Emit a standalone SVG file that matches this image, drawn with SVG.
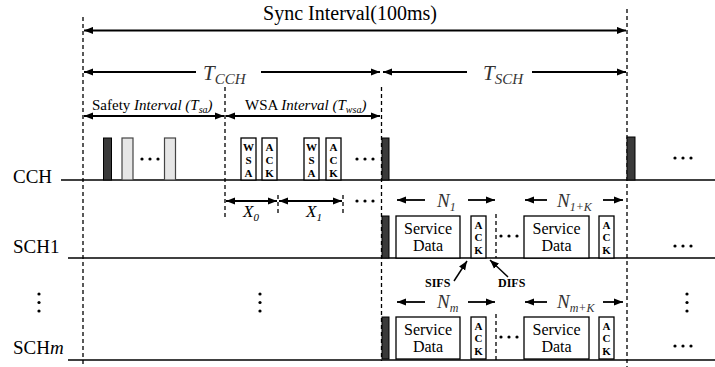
<svg xmlns="http://www.w3.org/2000/svg" width="715" height="367" viewBox="0 0 715 367">
<style>
text{font-family:"Liberation Serif","Times New Roman",serif;fill:#000}
.it{font-style:italic}
.gr{fill:#333}
.lbl{font-size:19px}
.dash{stroke:#000;stroke-width:1.3;stroke-dasharray:4,3;fill:none}
.base{stroke:#000;stroke-width:1.6;fill:none}
.arr{stroke:#000;stroke-width:1.8;fill:none;marker-end:url(#ah)}
.arr2{stroke:#000;stroke-width:1.8;fill:none;marker-end:url(#ah);marker-start:url(#ah)}
.thin{stroke:#000;stroke-width:1.5;fill:none;marker-end:url(#ah)}
.box{fill:#fff;stroke:#000;stroke-width:1.3}
.dark{fill:#3a3a3a;stroke:#000;stroke-width:1}
.light{fill:#e6e6e6;stroke:#444;stroke-width:1.2}
.v{font-size:11px;font-weight:bold;text-anchor:middle}
.sd{font-size:16px;text-anchor:middle}
.small{font-size:12px;font-weight:bold}
</style>
<defs>
<marker id="ah" markerUnits="userSpaceOnUse" markerWidth="9" markerHeight="8" viewBox="0 0 10 8" refX="10" refY="4" orient="auto-start-reverse">
<path d="M0,0 L10,4 L0,8 z" fill="#000"/>
</marker>
<g id="dots3h"><circle cx="0" cy="0" r="1.6"/><circle cx="8" cy="0" r="1.6"/><circle cx="16" cy="0" r="1.6"/></g>
<g id="dots3v"><circle cx="0" cy="0" r="1.6"/><circle cx="0" cy="8.5" r="1.6"/><circle cx="0" cy="17" r="1.6"/></g>
</defs>

<!-- connectors / timing lines -->
<g id="connectors">
<line class="dash" x1="83" y1="17" x2="83" y2="367"/>
<line class="dash" x1="627" y1="9" x2="627" y2="367"/>
<line class="dash" x1="381.5" y1="87" x2="381.5" y2="361"/>
<line class="dash" x1="225" y1="87" x2="225" y2="217"/>
<line class="dash" x1="278" y1="195" x2="278" y2="215"/>
<line class="dash" x1="343" y1="195" x2="343" y2="215"/>
<line class="dash" x1="496" y1="214" x2="496" y2="258"/>
<line class="dash" x1="496" y1="314" x2="496" y2="360"/>

<line class="arr2" x1="84" y1="30.5" x2="626" y2="30.5"/>
<line class="arr" x1="196" y1="72" x2="84" y2="72"/>
<line class="arr" x1="261" y1="72" x2="380" y2="72"/>
<line class="arr" x1="467" y1="72" x2="383" y2="72"/>
<line class="arr" x1="532" y1="72" x2="626" y2="72"/>
<line class="arr2" x1="84" y1="116" x2="224" y2="116"/>
<line class="arr2" x1="226" y1="116" x2="380" y2="116"/>
<line class="arr2" x1="226" y1="201" x2="277" y2="201"/>
<line class="arr2" x1="279" y1="201" x2="342" y2="201"/>

<line class="arr" x1="425" y1="200" x2="397" y2="200"/>
<line class="arr" x1="468" y1="200" x2="495" y2="200"/>
<line class="arr" x1="547" y1="200" x2="525" y2="200"/>
<line class="arr" x1="603" y1="200" x2="623" y2="200"/>
<line class="arr" x1="425" y1="302" x2="397" y2="302"/>
<line class="arr" x1="468" y1="302" x2="495" y2="302"/>
<line class="arr" x1="547" y1="302" x2="525" y2="302"/>
<line class="arr" x1="603" y1="302" x2="623" y2="302"/>

<line class="thin" x1="454" y1="281" x2="467" y2="261"/>
<line class="thin" x1="508" y1="277" x2="490" y2="260"/>

<line class="base" x1="61" y1="180" x2="715" y2="180"/>
<line class="base" x1="68" y1="258" x2="715" y2="258"/>
<line class="base" x1="68" y1="360" x2="715" y2="360"/>
</g>

<!-- titles -->
<g id="titles">
<text x="350" y="20" font-size="20" text-anchor="middle">Sync Interval(100ms)</text>
<text x="203" y="80" font-size="21" class="it gr">T<tspan font-size="15" dy="4">CCH</tspan></text>
<text x="483" y="80" font-size="21" class="it gr">T<tspan font-size="15" dy="4">SCH</tspan></text>
<text x="92" y="110" font-size="15">Safety <tspan class="it">Interval (T<tspan font-size="10" dy="3">sa</tspan><tspan dy="-3">)</tspan></tspan></text>
<text x="245" y="110" font-size="15">WSA <tspan class="it">Interval (T<tspan font-size="10" dy="3">wsa</tspan><tspan dy="-3">)</tspan></tspan></text>
<text x="243" y="217" font-size="17" class="it">X<tspan font-size="11" dy="4">0</tspan></text>
<text x="306" y="217" font-size="17" class="it">X<tspan font-size="11" dy="4">1</tspan></text>
<text x="437" y="207" font-size="19" class="it gr">N<tspan font-size="12" dy="4">1</tspan></text>
<text x="557" y="207" font-size="19" class="it gr">N<tspan font-size="12" dy="4">1+K</tspan></text>
<text x="437" y="308" font-size="19" class="it gr">N<tspan font-size="12" dy="4">m</tspan></text>
<text x="557" y="308" font-size="19" class="it gr">N<tspan font-size="12" dy="4">m+K</tspan></text>
<text x="425" y="287" class="small">SIFS</text>
<text x="498" y="287" class="small">DIFS</text>
</g>

<!-- channel labels -->
<g id="label-cch"><text x="13" y="183" class="lbl">CCH</text></g>
<g id="label-sch1"><text x="13" y="253" class="lbl">SCH1</text></g>
<g id="label-schm"><text x="13" y="354" class="lbl">SCH<tspan class="it">m</tspan></text></g>

<!-- CCH safety slots -->
<g id="cch-safety">
<rect class="dark" x="103.5" y="138" width="8" height="42"/>
<rect class="light" x="122" y="138" width="11" height="42"/>
<use href="#dots3h" x="142" y="159"/>
<rect class="light" x="164.5" y="138" width="11" height="42"/>
</g>

<!-- CCH WSA slots -->
<g id="cch-wsa">
<rect class="box" x="241" y="138" width="15" height="42"/>
<text class="v" x="248.5" y="151">W</text><text class="v" x="248.5" y="164">S</text><text class="v" x="248.5" y="177">A</text>
<rect class="box" x="262" y="138" width="15" height="42"/>
<text class="v" x="269.5" y="151">A</text><text class="v" x="269.5" y="164">C</text><text class="v" x="269.5" y="177">K</text>
<rect class="box" x="304" y="138" width="15" height="42"/>
<text class="v" x="311.5" y="151">W</text><text class="v" x="311.5" y="164">S</text><text class="v" x="311.5" y="177">A</text>
<rect class="box" x="326" y="138" width="15" height="42"/>
<text class="v" x="333.5" y="151">A</text><text class="v" x="333.5" y="164">C</text><text class="v" x="333.5" y="177">K</text>
<use href="#dots3h" x="357" y="159"/>
<use href="#dots3h" x="357" y="201"/>
<rect class="dark" x="382" y="138" width="7" height="42"/>
<rect class="dark" x="627" y="137" width="8" height="43"/>
<use href="#dots3h" x="675" y="158"/>
</g>

<!-- SCH1 -->
<g id="sch1">
<rect class="dark" x="382" y="216" width="7" height="42"/>
<rect class="box" x="396" y="216" width="64" height="42"/>
<text class="sd" x="428" y="234">Service</text><text class="sd" x="428" y="251">Data</text>
<rect class="box" x="471" y="216" width="15" height="42"/>
<text class="v" x="478.5" y="229">A</text><text class="v" x="478.5" y="241">C</text><text class="v" x="478.5" y="254">K</text>
<use href="#dots3h" x="501" y="236"/>
<rect class="box" x="524" y="216" width="65" height="42"/>
<text class="sd" x="556.5" y="234">Service</text><text class="sd" x="556.5" y="251">Data</text>
<rect class="box" x="599" y="216" width="15" height="42"/>
<text class="v" x="606.5" y="229">A</text><text class="v" x="606.5" y="241">C</text><text class="v" x="606.5" y="254">K</text>
<use href="#dots3h" x="675" y="246"/>
</g>

<!-- vertical ellipses -->
<g id="vdots">
<use href="#dots3v" x="39" y="294"/>
<use href="#dots3v" x="260" y="294"/>
<use href="#dots3v" x="687" y="294"/>
</g>

<!-- SCHm -->
<g id="schm">
<rect class="dark" x="382" y="317" width="7" height="42"/>
<rect class="box" x="396" y="317" width="64" height="42"/>
<text class="sd" x="428" y="335">Service</text><text class="sd" x="428" y="352">Data</text>
<rect class="box" x="471" y="317" width="15" height="42"/>
<text class="v" x="478.5" y="330">A</text><text class="v" x="478.5" y="342">C</text><text class="v" x="478.5" y="355">K</text>
<use href="#dots3h" x="501" y="337"/>
<rect class="box" x="524" y="317" width="65" height="42"/>
<text class="sd" x="556.5" y="335">Service</text><text class="sd" x="556.5" y="352">Data</text>
<rect class="box" x="599" y="317" width="15" height="42"/>
<text class="v" x="606.5" y="330">A</text><text class="v" x="606.5" y="342">C</text><text class="v" x="606.5" y="355">K</text>
<use href="#dots3h" x="675" y="346"/>
</g>
</svg>
